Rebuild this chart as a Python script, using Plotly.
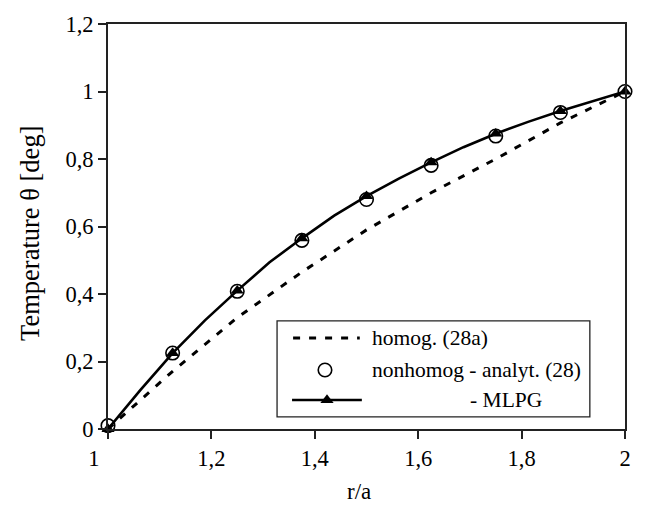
import plotly.graph_objects as go

# ---- data ----
homog_x = [1.0, 1.125, 1.25, 1.375, 1.5, 1.625, 1.75, 1.875, 2.0]
homog_y = [0.0, 0.171, 0.33, 0.465, 0.59, 0.70, 0.80, 0.907, 1.0]

analyt_x = [1.0, 1.125, 1.25, 1.375, 1.5, 1.625, 1.75, 1.875, 2.0]
analyt_y = [0.01, 0.225, 0.408, 0.559, 0.68, 0.781, 0.868, 0.938, 1.0]

mlpg_x = [1.0, 1.0625, 1.125, 1.1875, 1.25, 1.3125, 1.375, 1.4375, 1.5,
          1.5625, 1.625, 1.6875, 1.75, 1.8125, 1.875, 1.9375, 2.0]
mlpg_y = [0.0, 0.115, 0.225, 0.322, 0.41, 0.494, 0.565, 0.632, 0.69,
          0.742, 0.79, 0.835, 0.875, 0.91, 0.942, 0.972, 1.0]

x_tickvals = [1.0, 1.2, 1.4, 1.6, 1.8, 2.0]
x_ticktext = ["1\u00a0\u00a0\u00a0\u00a0\u00a0", "1,2", "1,4", "1,6", "1,8", "2"]
y_tickvals = [0.0, 0.2, 0.4, 0.6, 0.8, 1.0, 1.2]
y_ticktext = ["0", "0,2", "0,4", "0,6", "0,8", "1", "1,2"]

legend_labels = ["homog. (28a)", "nonhomog - analyt. (28)", "- MLPG"]

FONT = "Liberation Serif"
FS_TICK = 22.5
FS_LEG = 21.5
FS_YT = 26.5
FS_XT = 23

fig = go.Figure()

fig.add_trace(go.Scatter(x=homog_x, y=homog_y, mode="lines",
                         line=dict(color="black", width=3, dash="7px,9px"),
                         showlegend=False, cliponaxis=False))
fig.add_trace(go.Scatter(x=analyt_x, y=analyt_y, mode="markers",
                         marker=dict(symbol="circle-open", size=13.5, color="black",
                                     line=dict(width=1.6, color="black")),
                         showlegend=False, cliponaxis=False))
fig.add_trace(go.Scatter(x=mlpg_x, y=mlpg_y, mode="lines",
                         line=dict(color="black", width=2.6),
                         showlegend=False, cliponaxis=False))
fig.add_trace(go.Scatter(x=mlpg_x[::2], y=mlpg_y[::2], mode="markers",
                         marker=dict(symbol="triangle-up", size=11.5, color="black"),
                         showlegend=False, cliponaxis=False))

# ---- custom legend on an overlay axis (0..1 over plot area) ----
leg_x0, leg_x1, leg_y0, leg_y1 = 0.327, 0.932, 0.030, 0.267
row_y = [0.2247, 0.1457, 0.0716]
fig.add_shape(type="rect", xref="paper", yref="paper",
              x0=leg_x0, x1=leg_x1, y0=leg_y0, y1=leg_y1,
              line=dict(color="#222", width=1.3), fillcolor="white", layer="below")
fig.add_trace(go.Scatter(x=[0.358, 0.487], y=[row_y[0]] * 2, mode="lines",
                         line=dict(color="black", width=3, dash="7px,9px"),
                         xaxis="x2", yaxis="y2", showlegend=False))
fig.add_trace(go.Scatter(x=[0.4197], y=[row_y[1]], mode="markers",
                         marker=dict(symbol="circle-open", size=13.5, color="black",
                                     line=dict(width=1.6, color="black")),
                         xaxis="x2", yaxis="y2", showlegend=False))
fig.add_trace(go.Scatter(x=[0.356, 0.491], y=[row_y[2]] * 2, mode="lines",
                         line=dict(color="black", width=2.6),
                         xaxis="x2", yaxis="y2", showlegend=False))
fig.add_trace(go.Scatter(x=[0.4236], y=[row_y[2]], mode="markers",
                         marker=dict(symbol="triangle-up", size=11.5, color="black"),
                         xaxis="x2", yaxis="y2", showlegend=False))
for lab, ly, lx in zip(legend_labels, row_y, [0.507, 0.507, 0.696]):
    fig.add_annotation(x=lx, y=ly, xref="paper", yref="paper", text=lab,
                       showarrow=False, xanchor="left", yanchor="middle",
                       font=dict(family=FONT, size=FS_LEG, color="black"))

# ---- axis titles ----
fig.add_annotation(x=1.485, y=-0.155, xref="x", yref="paper", text="r/a",
                   showarrow=False, xanchor="center", yanchor="middle",
                   font=dict(family=FONT, size=FS_XT, color="black"))
fig.add_annotation(x=-0.151, y=0.484, xref="paper", yref="paper",
                   text="Temperature \u03b8 [deg]", textangle=-90,
                   showarrow=False, xanchor="center", yanchor="middle",
                   font=dict(family=FONT, size=FS_YT, color="black"))

fig.update_layout(
    width=650, height=506,
    margin=dict(l=108, r=25, t=24, b=77),
    paper_bgcolor="white", plot_bgcolor="white",
    font=dict(family=FONT, size=FS_TICK, color="black"),
    xaxis=dict(range=[1, 2], tickvals=x_tickvals, ticktext=x_ticktext,
               showgrid=False, zeroline=False, showline=True, linecolor="#222",
               linewidth=2, mirror=True, ticks="outside", ticklen=8,
               tickwidth=1.5, tickcolor="#222"),
    yaxis=dict(range=[0, 1.2], tickvals=y_tickvals, ticktext=y_ticktext,
               showgrid=False, zeroline=False, showline=True, linecolor="#222",
               linewidth=2, mirror=True, ticks="outside", ticklen=8,
               tickwidth=1.5, tickcolor="#222"),
    xaxis2=dict(range=[0, 1], overlaying="x", visible=False, fixedrange=True),
    yaxis2=dict(range=[0, 1], overlaying="y", visible=False, fixedrange=True),
)

fig.write_html("out.html")
